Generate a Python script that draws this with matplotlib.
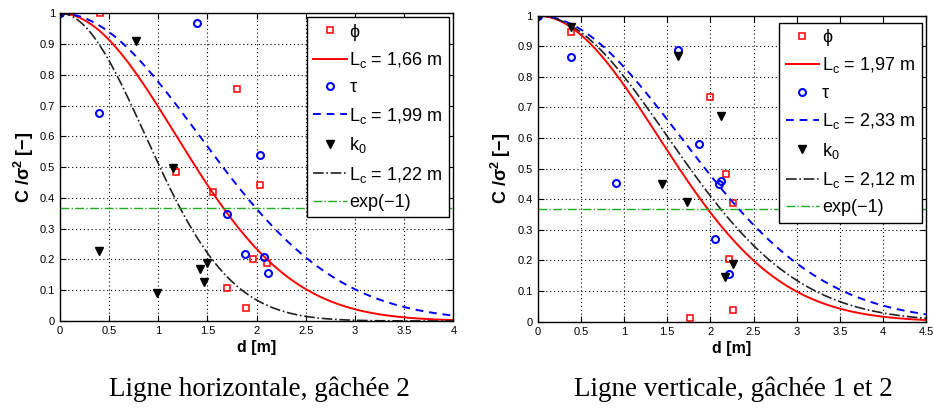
import numpy as np
import matplotlib
matplotlib.use("Agg")
import matplotlib.pyplot as plt

plt.rcParams['font.family'] = ['Liberation Sans', 'DejaVu Sans']
plt.rcParams['mathtext.default'] = 'regular'

# ---- data ----
# left panel : Ligne horizontale, gachee 2
phi_d_h = [0, 0.41, 1.18, 1.56, 1.80, 2.03, 1.96, 2.11, 1.70, 1.89]
phi_c_h = [1.0, 1.0, 0.485, 0.418, 0.755, 0.442, 0.201, 0.19, 0.108, 0.043]
tau_d_h = [0, 1.39, 0.40, 2.03, 1.70, 1.88, 2.07, 2.12]
tau_c_h = [1.0, 0.97, 0.677, 0.54, 0.348, 0.218, 0.207, 0.157]
k0_d_h = [0, 0.77, 0.40, 1.15, 0.99, 1.42, 1.50, 1.46]
k0_c_h = [1.0, 0.91, 0.228, 0.496, 0.09, 0.169, 0.19, 0.128]
Lc_h = [1.66, 1.99, 1.22]

# right panel : Ligne verticale, gachee 1 et 2
phi_d_v = [0, 0.39, 1.99, 2.18, 2.26, 2.22, 2.26, 1.76]
phi_c_v = [1.0, 0.948, 0.735, 0.482, 0.387, 0.206, 0.038, 0.011]
tau_d_v = [0, 0.39, 0.91, 1.62, 1.87, 2.12, 2.10, 2.05, 2.22]
tau_c_v = [1.0, 0.864, 0.452, 0.888, 0.581, 0.46, 0.45, 0.27, 0.155]
k0_d_v = [0, 0.39, 1.62, 2.12, 1.44, 1.73, 2.26, 2.17]
k0_c_v = [1.0, 0.962, 0.868, 0.673, 0.449, 0.39, 0.188, 0.147]
Lc_v = [1.97, 2.33, 2.12]

xmax = [4, 4.5]
captions = ["Ligne horizontale, gâchée 2", "Ligne verticale, gâchée 1 et 2"]


fig = plt.figure(figsize=(9.33, 4.12), dpi=100)
ax1 = fig.add_axes([0.0643, 0.2209, 0.4216, 0.7468])
ax2 = fig.add_axes([0.5763, 0.2192, 0.4165, 0.7427])


def panel(ax, phi_d, phi_c, tau_d, tau_c, k0_d, k0_c, Lc, xm, anchor):
    d = np.linspace(0, xm, 300)
    h = []
    h += ax.plot(phi_d, phi_c, 's', mfc='none', mec='red', ms=5, mew=1.1, label='ϕ')
    h += ax.plot(d, np.exp(-(d/Lc[0])**2), '-', color='red', lw=1.4,
                 label='L$_c$ = %s m' % ('%.2f' % Lc[0]).replace('.', ','))
    h += ax.plot(tau_d, tau_c, 'o', mfc='none', mec='blue', ms=5, mew=1.5, label='τ')
    h += ax.plot(d, np.exp(-(d/Lc[1])**2), '--', color='blue', lw=1.4, dashes=(4, 3),
                 label='L$_c$ = %s m' % ('%.2f' % Lc[1]).replace('.', ','))
    h += ax.plot(k0_d, k0_c, 'v', color='black', ms=6, label='k$_0$')
    h += ax.plot(d, np.exp(-(d/Lc[2])**2), '-.', color='#222222', lw=1.2,
                 label='L$_c$ = %s m' % ('%.2f' % Lc[2]).replace('.', ','))
    h.append(ax.axhline(np.exp(-1), color='#22aa22', ls='-.', lw=1.0, label='exp(−1)'))

    ax.set_xlim(0, xm)
    ax.set_ylim(0, 1)
    xt = np.arange(0, xm + 0.01, 0.5)
    ax.set_xticks(xt)
    ax.set_xticklabels(['%g' % v for v in xt])
    yt = np.arange(0, 1.01, 0.1)
    ax.set_yticks(yt)
    ax.set_yticklabels(['%g' % round(v, 1) for v in yt])
    ax.tick_params(direction='in', top=True, right=True, labelsize=8, length=4, width=0.8)
    ax.grid(True, color='black', ls=(0, (1, 2.5)), lw=0.8)
    for s in ax.spines.values():
        s.set_linewidth(1.0)
    ax.set_xlabel('d [m]', fontsize=11.5, fontweight='bold', labelpad=3)
    ax.set_ylabel('C /σ$^2$ [−]', fontsize=13, fontweight='bold', labelpad=3)

    leg = ax.legend(handles=h, loc='upper right', bbox_to_anchor=anchor,
                    fontsize=13, frameon=True, fancybox=False, framealpha=1,
                    edgecolor='black', handlelength=1.85, handletextpad=0.15,
                    labelspacing=0.52, borderpad=0.35, borderaxespad=0.0)
    leg.get_frame().set_linewidth(1.0)


panel(ax1, phi_d_h, phi_c_h, tau_d_h, tau_c_h, k0_d_h, k0_c_h, Lc_h, xmax[0], (0.989, 0.987))
panel(ax2, phi_d_v, phi_c_v, tau_d_v, tau_c_v, k0_d_v, k0_c_v, Lc_v, xmax[1], (0.988, 0.977))

fig.text(259/933, 1 - 389/412, captions[0], ha='center', va='center',
         fontsize=19.5, family=['Liberation Serif', 'DejaVu Serif'])
fig.text(733/933, 1 - 389/412, captions[1], ha='center', va='center',
         fontsize=19.5, family=['Liberation Serif', 'DejaVu Serif'])

fig.savefig('out.png', dpi=100)
